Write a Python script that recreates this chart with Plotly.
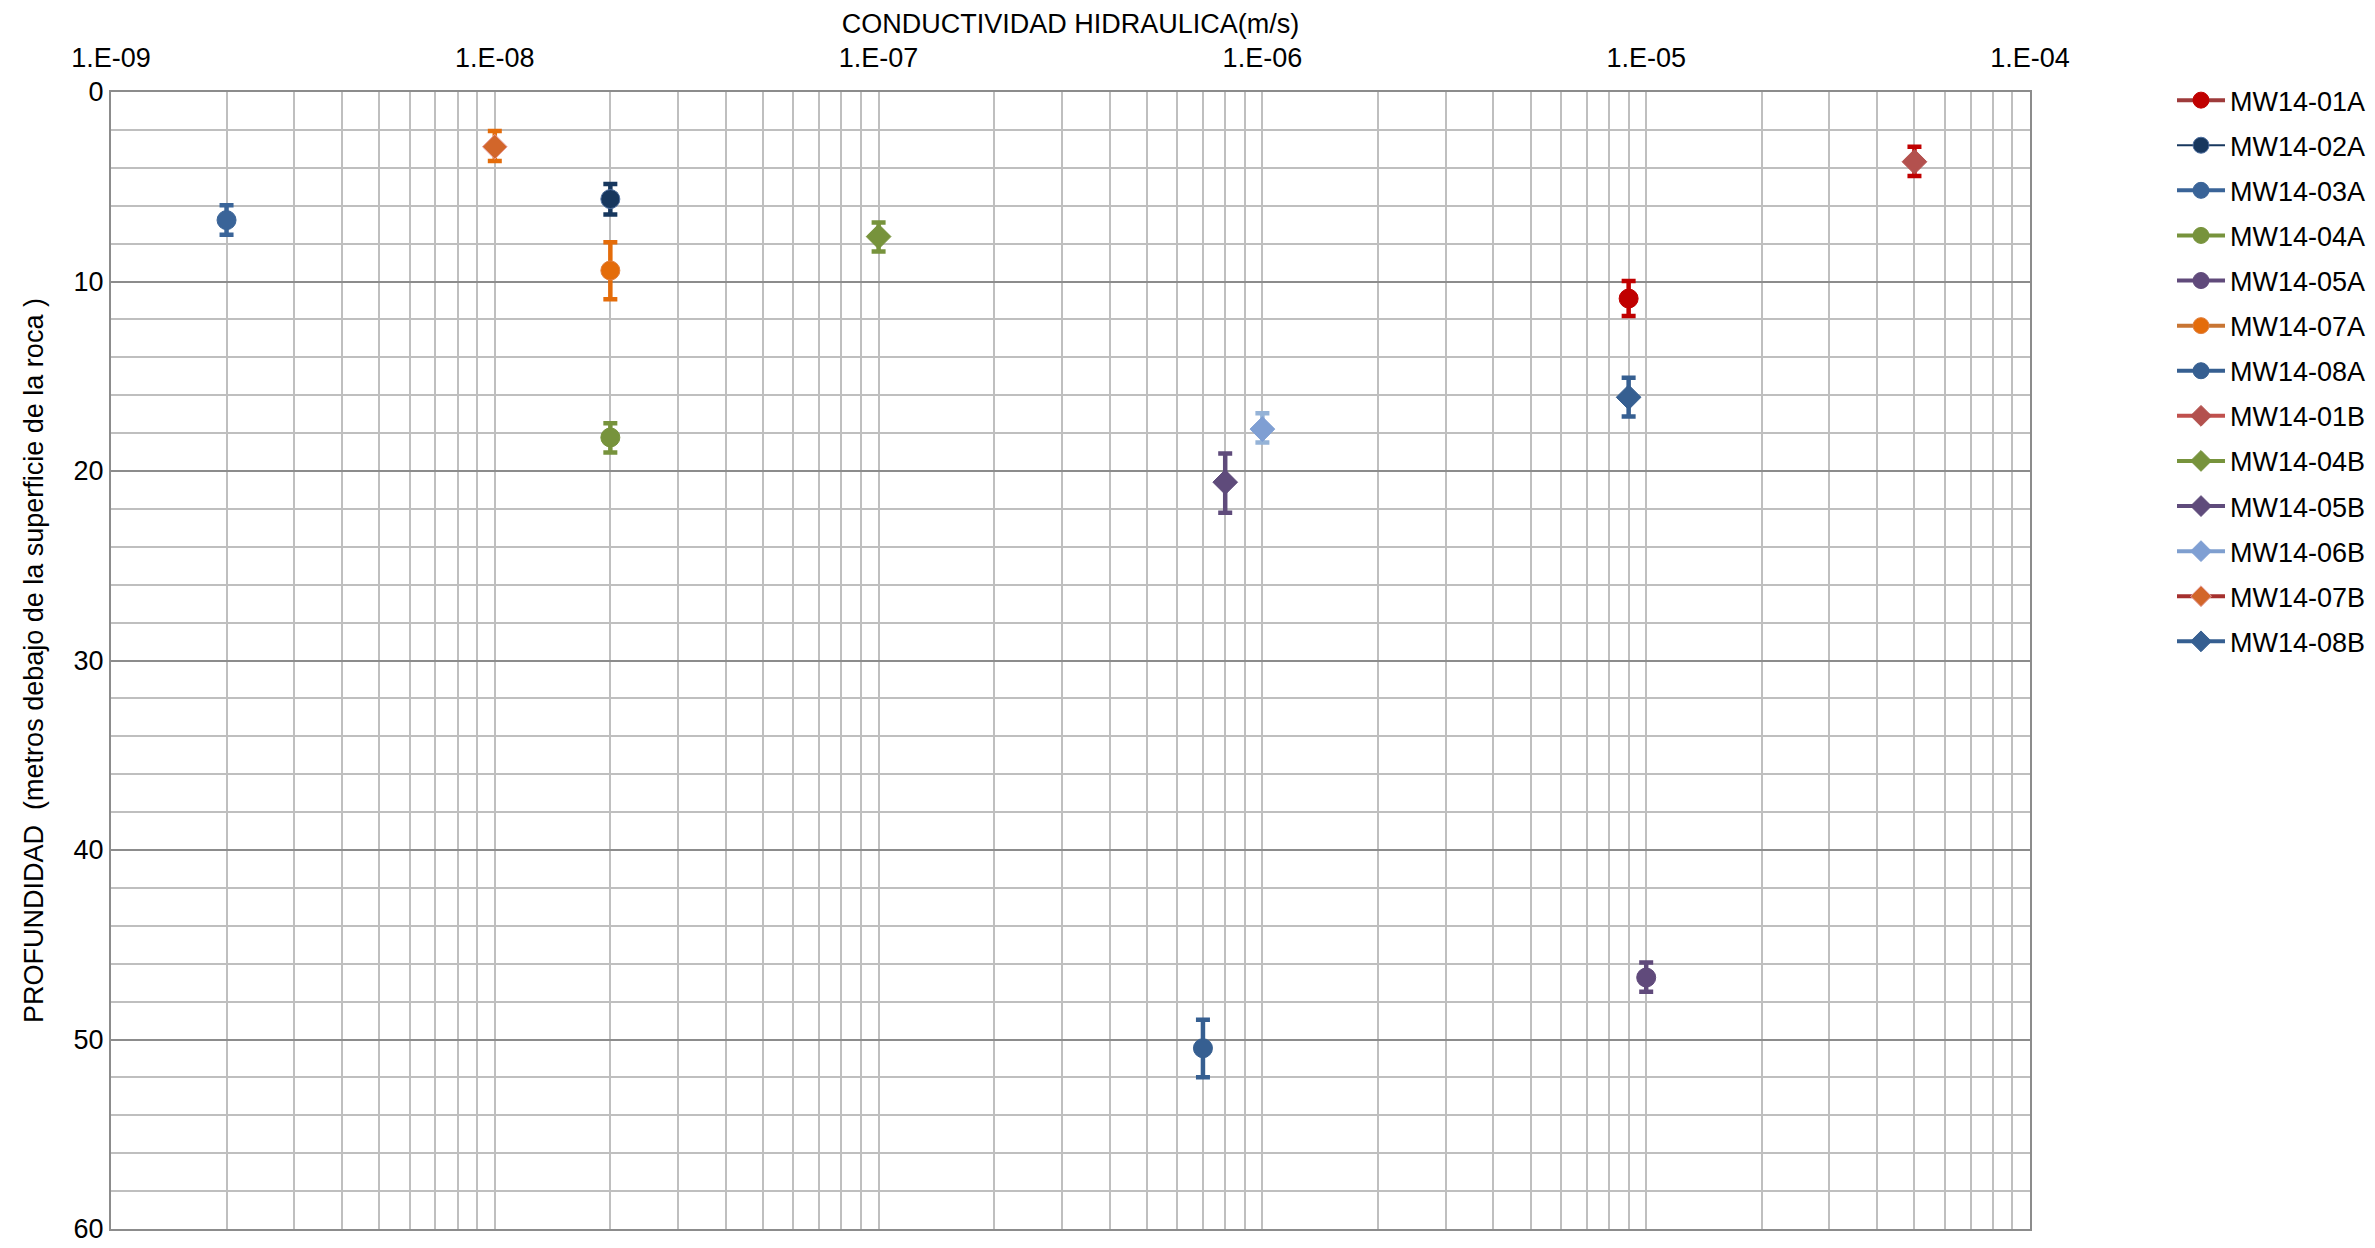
import plotly.graph_objects as go

names = ["MW14-01A", "MW14-02A", "MW14-03A", "MW14-04A", "MW14-05A", "MW14-07A", "MW14-08A",
         "MW14-01B", "MW14-04B", "MW14-05B", "MW14-06B", "MW14-07B", "MW14-08B"]
conductivity = [9e-6, 2e-8, 2e-9, 2e-8, 1e-5, 2e-8, 7e-7,
                5e-5, 1e-7, 8e-7, 1e-6, 1e-8, 9e-6]
depth = [10.9, 5.65, 6.76, 18.23, 46.73, 9.42, 50.46,
         3.68, 7.63, 20.59, 17.79, 2.89, 16.11]
depth_top = [9.98, 4.85, 5.97, 17.48, 45.94, 7.93, 48.96,
             2.89, 6.88, 19.07, 16.95, 2.06, 15.08]
depth_bottom = [11.82, 6.46, 7.53, 19.02, 47.48, 10.94, 51.99,
                4.43, 8.42, 22.2, 18.49, 3.64, 17.13]

symbols = ["circle"] * 7 + ["diamond"] * 6
marker_colors = ["#C00000", "#17375E", "#3A6498", "#77933C", "#604A7B", "#E46C0A", "#365F91",
                 "#B3514E", "#77933C", "#5F4B7B", "#7F9FD3", "#D2662A", "#365F91"]
marker_lines = ["#C00000", "#4F6F9F", "#3A6498", "#77933C", "#604A7B", "#E08040", "#365F91",
                "#B3514E", "#77933C", "#5F4B7B", "#7F9FD3", "#E6A0A0", "#365F91"]
line_colors = ["#9E3B3B", "#17375E", "#3A6498", "#77933C", "#604A7B", "#C87533", "#365F91",
               "#C0504D", "#77933C", "#5F4B7B", "#7F9FCF", "#A5302E", "#365F91"]
error_colors = ["#C00000", "#17375E", "#3A6498", "#77933C", "#604A7B", "#E46C0A", "#365F91",
                "#C00000", "#77933C", "#5F4B7B", "#95B3D7", "#E46C0A", "#365F91"]
line_widths = [4, 2, 4, 4, 4, 4, 4, 4, 4, 4, 4, 4, 4]
x_tickvals = [1e-9, 1e-8, 1e-7, 1e-6, 1e-5, 1e-4]
x_ticktext = ["1.E-09", "1.E-08", "1.E-07", "1.E-06", "1.E-05", "1.E-04"]
y_tickvals = [0, 10, 20, 30, 40, 50, 60]

FONT = "Liberation Sans, Arial, sans-serif"

fig = go.Figure()
for i, n in enumerate(names):
    fig.add_trace(go.Scatter(
        x=[conductivity[i]], y=[depth[i]], name=n, mode="lines+markers",
        legendgroup=n,
        line=dict(color=line_colors[i], width=line_widths[i]),
        marker=dict(symbol=symbols[i], size=19,
                    color=marker_colors[i], line=dict(color=marker_lines[i], width=1)),
        error_y=dict(type="data", symmetric=False,
                     array=[depth_bottom[i] - depth[i]],
                     arrayminus=[depth[i] - depth_top[i]],
                     color=error_colors[i], thickness=4.5, width=7),
    ))

minor_x = [m * 10.0 ** e for e in range(-9, -4) for m in range(2, 10)]

fig.update_layout(
    width=2375, height=1248,
    margin=dict(l=103, r=353, t=84, b=22),
    paper_bgcolor="white", plot_bgcolor="white",
    font=dict(family=FONT, size=27, color="#000000"),
    showlegend=True,
    legend=dict(x=1.074, y=1.014, xanchor="left", yanchor="top",
                font=dict(family=FONT, size=27, color="#000000"),
                itemwidth=48,
                tracegroupgap=7, bgcolor="rgba(0,0,0,0)"),
    xaxis=dict(type="log", range=[-9, -4], side="top",
               tickvals=x_tickvals, ticktext=x_ticktext,
               ticks="", ticklabelstandoff=12,
               showgrid=True, gridcolor="#BFBFBF", gridwidth=2,
               minor=dict(tickvals=minor_x, showgrid=True, gridcolor="#BFBFBF", gridwidth=2, ticks=""),
               showline=True, linecolor="#8C8C8C", linewidth=2, mirror=True,
               zeroline=False,
               title=dict(text="CONDUCTIVIDAD HIDRAULICA(m/s)", standoff=2,
                          font=dict(family=FONT, size=27))),
    yaxis=dict(range=[60, 0], tickvals=y_tickvals,
               ticks="", ticklabelstandoff=0, ticklabeloverflow="allow",
               showgrid=True, gridcolor="#8C8C8C", gridwidth=2,
               minor=dict(dtick=2, showgrid=True, gridcolor="#BFBFBF", gridwidth=2, ticks=""),
               showline=True, linecolor="#8C8C8C", linewidth=2, mirror=True,
               zeroline=False,
               title=dict(text="PROFUNDIDAD  (metros debajo de la superficie de la roca )",
                          standoff=22, font=dict(family=FONT, size=27))),
)

fig.write_html("out.html")
